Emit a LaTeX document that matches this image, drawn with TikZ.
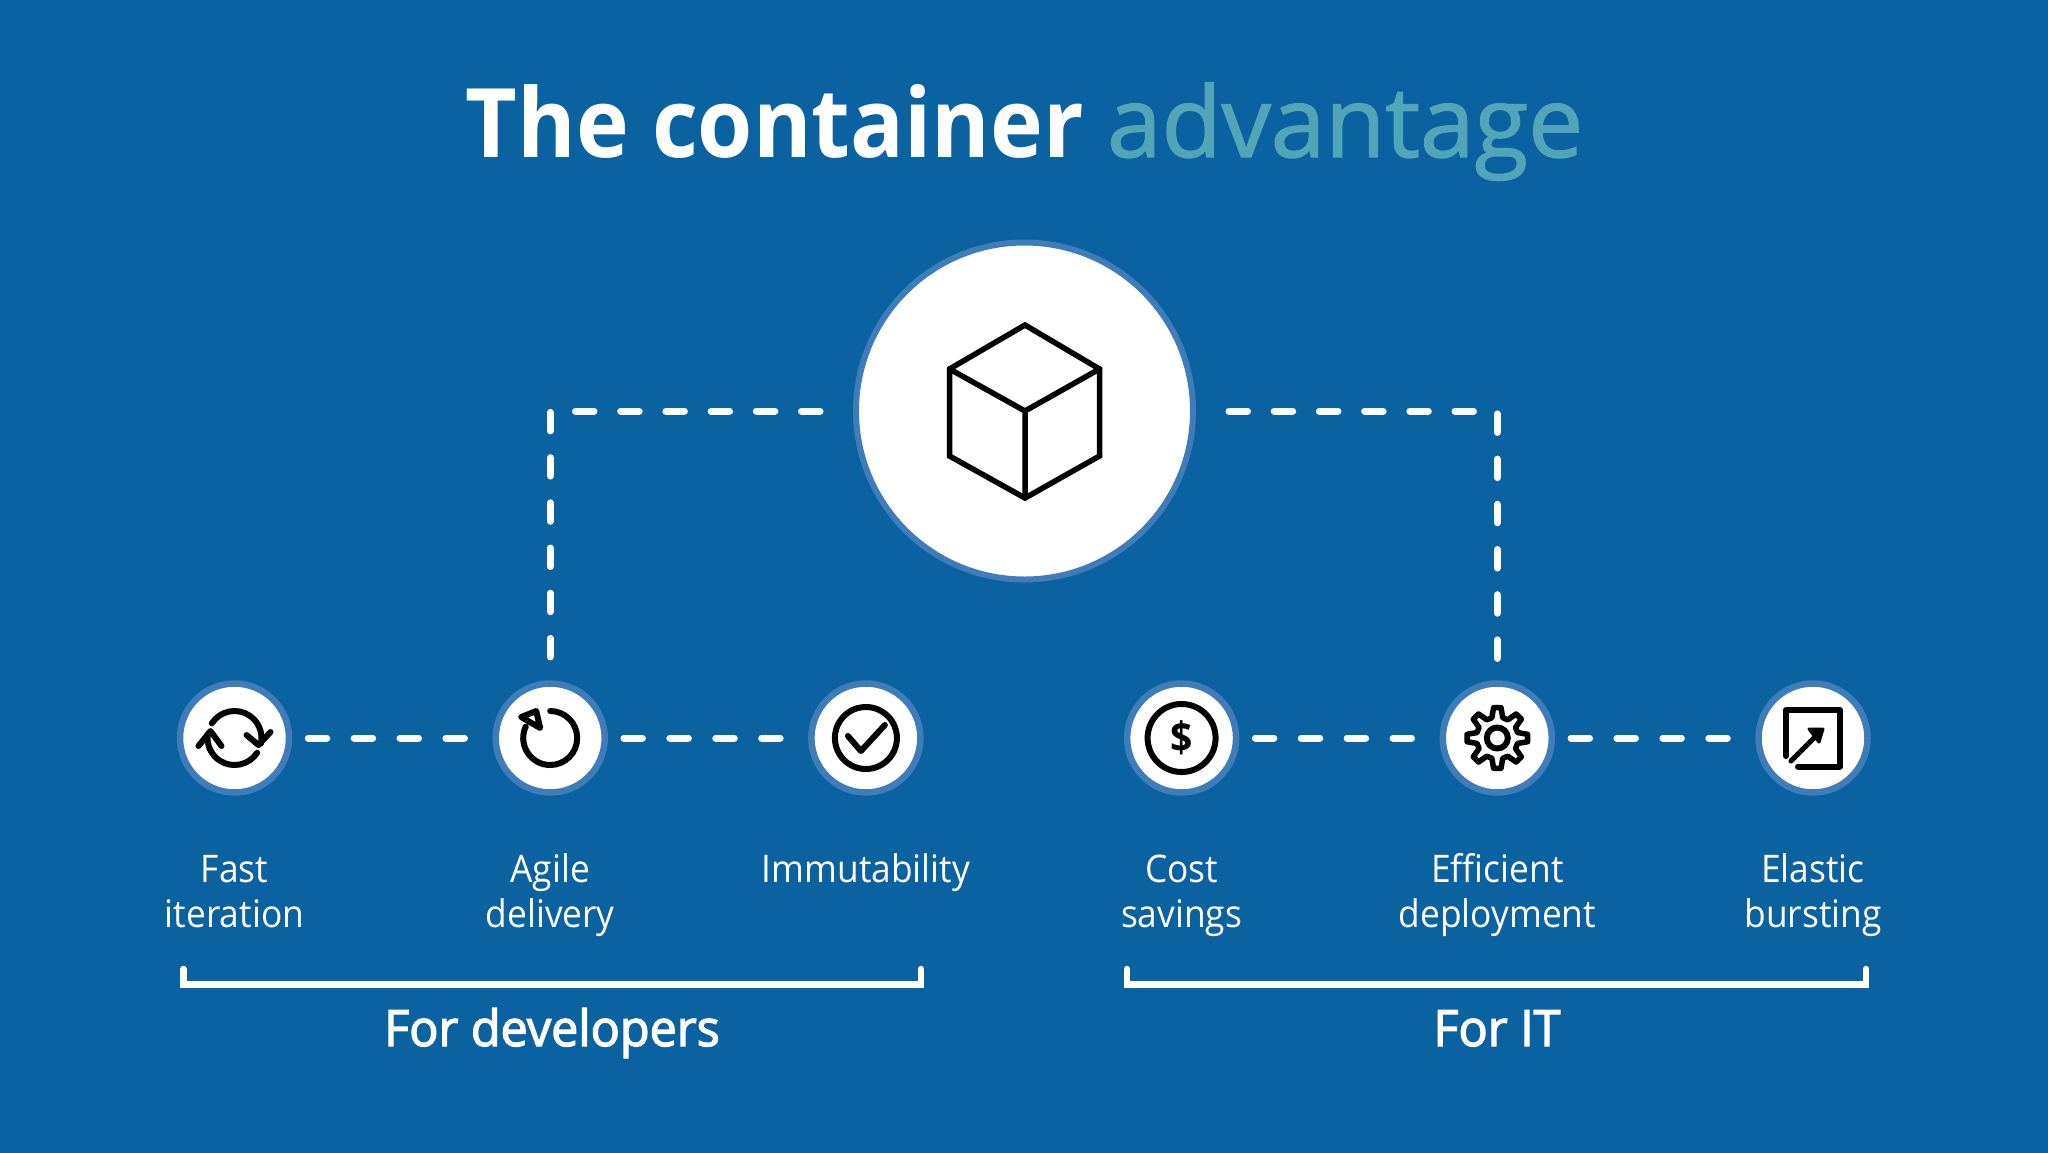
\documentclass[tikz,border=0pt]{standalone}
\usepackage{fontspec}
\setmainfont[FakeStretch=0.93]{Open Sans}
\newfontfamily\groupfont[FakeStretch=0.97,FakeBold=2.5]{Open Sans}
\newfontfamily\accentfont[FakeStretch=1,FakeBold=1.5]{Open Sans}
\usepackage{tikz}
\usetikzlibrary{positioning}
\definecolor{panelblue}{RGB}{10,98,160}
\definecolor{ringblue}{RGB}{62,125,184}
\definecolor{tealtext}{RGB}{80,165,185}
\newcommand{\capstrut}{\rule{0pt}{45pt}}

\begin{document}
\begin{tikzpicture}[x=1pt, y=1pt, node distance=315.7pt,
    spot/.style={circle, draw=ringblue, fill=white, line width=6.5pt, minimum size=109pt, inner sep=0pt},
    hubspot/.style={spot, line width=6pt, minimum size=337pt},
    dashlink/.style={draw=white, line width=7pt, line cap=round, dash pattern=on 18.5pt off 27.4pt},
    hublink/.style={dashlink, dash pattern=on 18.5pt off 26.7pt},
    bracketline/.style={draw=white, line width=6.5pt, line cap=round},
    icon/.style={draw=black, line width=6pt, line cap=round, line join=round},
    captiontext/.style={text=white, align=center, inner sep=0pt, font=\fontsize{38}{45}\selectfont},
    grouptext/.style={text=white, anchor=base, inner sep=0pt, font=\fontsize{50}{50}\groupfont}]
    \useasboundingbox (0,0) rectangle (2048,-1152);
    \fill[panelblue] (-3,3) rectangle (2051,-1155);

    \node[anchor=base, inner sep=0pt, text=white] (title) at (1024.5,-157) {\fontsize{96}{100}\selectfont\textbf{The container} \textcolor{tealtext}{\fontsize{98}{100}\accentfont advantage}};

    \node[hubspot] (hub) at (1024.5,-411) {};
    \node[spot] (sync) at (234.5,-738) {};
    \node[spot] (agile) [right of=sync] {};
    \node[spot] (check) [right of=agile] {};
    \node[spot] (cost) [right of=check] {};
    \node[spot] (gear) [right of=cost] {};
    \node[spot] (elastic) [right of=gear] {};

    \draw[dashlink, shorten <=16pt, shorten >=20pt] (sync) -- (agile);
    \draw[dashlink, shorten <=16pt, shorten >=20pt] (agile) -- (check);
    \draw[dashlink, shorten <=16pt, shorten >=20pt] (cost) -- (gear);
    \draw[dashlink, shorten <=16pt, shorten >=20pt] (gear) -- (elastic);
    \draw[hublink, shorten <=33pt, shorten >=5pt] (hub) -| (agile);
    \draw[hublink, shorten <=33pt, shorten >=5pt] (hub) -| (gear);

    \node[captiontext, below=42pt of sync] (synctext) {\capstrut Fast\\iteration};
    \node[captiontext, below=42pt of agile] (agiletext) {\capstrut Agile\\delivery};
    \node[captiontext, below=42pt of check] (checktext) {\capstrut Immutability};
    \node[captiontext, below=42pt of cost] (costtext) {\capstrut Cost\\savings};
    \node[captiontext, below=42pt of gear] (geartext) {\capstrut Efficient\\deployment};
    \node[captiontext, below=42pt of elastic] (elastictext) {\capstrut Elastic\\bursting};

    \coordinate (devstart) at (183.5,-969);
    \coordinate (devbase) at (552,-984.5);
    \coordinate (devend) at (921,-969);
    \coordinate (itstart) at (1127,-969);
    \coordinate (itbase) at (1497,-984.5);
    \coordinate (itend) at (1866,-969);
    \draw[bracketline] (devstart) |- (devbase) -| (devend);
    \draw[bracketline] (itstart) |- (itbase) -| (itend);
    \node[grouptext] (devtext) at (552,-1046) {For developers};
    \node[grouptext] (ittext) at (1497,-1046) {For IT};

    \begin{scope}[shift={(hub)}]
        \draw[icon, line width=5.5pt, line join=miter] (0.5,86) -- (75,42) -- (75,-45) -- (0.5,-87) -- (-75,-45) -- (-75,42) -- cycle;
        \draw[icon, line width=5.5pt, line join=miter] (-75,42) -- (0.5,0) -- (75,42) (0.5,0) -- (0.5,-87);
    \end{scope}
    \begin{scope}[shift={(sync)}]
        \draw[icon] (147:27) arc (147:-12:27);
        \draw[icon] (12,3) -- (24,-7) -- (36,6);
        \draw[icon] (-33:27) arc (-33:-188:27);
        \draw[icon] (-36,-8) -- (-24,7) -- (-13,-8);
    \end{scope}
    \begin{scope}[shift={(agile)}]
        \draw[icon] (0,27) arc (90:-205:27);
        \draw[icon] (-29,21) -- (-14,27) -- (-10,10) -- cycle;
    \end{scope}
    \begin{scope}[shift={(check)}]
        \draw[icon] (0,0) circle (31);
        \draw[icon] (-18,2) -- (-5,-13) -- (19,13);
    \end{scope}
    \begin{scope}[shift={(cost)}]
        \draw[icon] (0,0) circle (34);
        \node[font=\fontsize{42}{42}\selectfont\bfseries, text=black, inner sep=0pt] (dollar) {\$};
    \end{scope}
    \begin{scope}[shift={(gear)}]
        \draw[icon] (0,0) circle (10.5);
        \draw[icon, line width=5.5pt] (83:30.5) \foreach \a in {90,135,...,405} { -- (\a+7:30.5) -- (\a+15:21) -- (\a+30:21) -- (\a+38:30.5)} -- cycle;
    \end{scope}
    \begin{scope}[shift={(elastic)}]
        \draw[icon] (-27,-18) -- (-27,28) -- (27,28) -- (27,-28.5) -- (-15,-28.5);
        \draw[icon, line width=5pt] (-22,-23) -- (7,6);
        \draw[icon, line width=3pt, fill=black] (-4,9) -- (10,9) -- (6,-4) -- cycle;
    \end{scope}
\end{tikzpicture}
\end{document}
